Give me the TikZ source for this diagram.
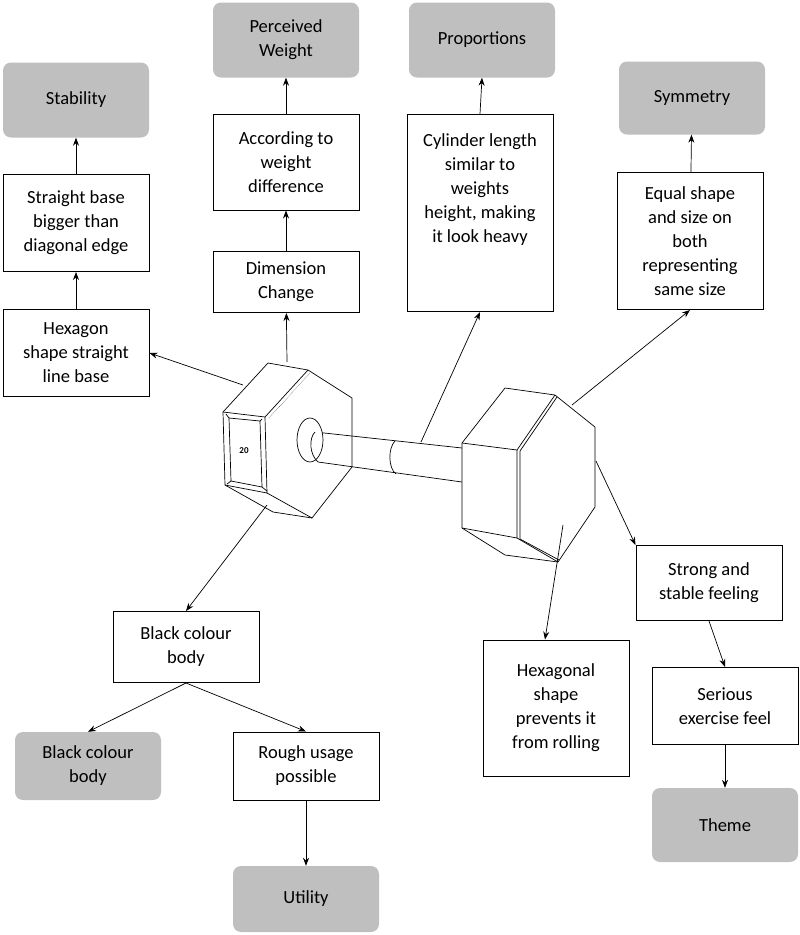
\documentclass[tikz,border=0pt]{standalone}
\usepackage{fontspec}
\setmainfont{Carlito}
\usetikzlibrary{arrows.meta}
\begin{document}
\begin{tikzpicture}[x=1pt,y=-1pt,
 box/.style={draw,line width=1pt,minimum width=146pt,align=center,font=\fontsize{18.5}{24}\selectfont,inner sep=2pt},
 gbox/.style={fill=black!25,rounded corners=8pt,minimum width=146pt,align=center,font=\fontsize{18.5}{24}\selectfont},
 arr/.style={-{Stealth[length=8pt,width=6pt]},line width=0.7pt},
 db/.style={line width=0.7pt,line join=round}]
\useasboundingbox (0,0) rectangle (800,935);
% nodes
\node[gbox,minimum height=75pt] (stab) at (76,100) {Stability};
\node[box,minimum height=97pt] (sb) at (76,223) {Straight base\\bigger than\\diagonal edge};
\node[box,minimum height=87pt] (hx) at (76,353) {Hexagon\\shape straight\\line base};
\node[gbox,minimum height=75pt] (pw) at (286,40) {Perceived\\Weight};
\node[box,minimum height=96pt] (aw) at (286,162) {According to\\weight\\difference};
\node[box,minimum height=61pt] (dc) at (286,282) {Dimension\\Change};
\node[gbox,minimum height=75pt] (pr) at (482,40) {Proportions};
\node[box,minimum height=197pt,text depth=50pt] (cl) at (480,213) {Cylinder length\\similar to\\weights\\height, making\\it look heavy};
\node[gbox,minimum height=73pt] (sy) at (692,98) {Symmetry};
\node[box,minimum height=137pt] (es) at (690,241) {Equal shape\\and size on\\both\\representing\\same size};
\node[box,minimum height=75pt] (ss) at (709,583) {Strong and\\stable feeling};
\node[box,minimum height=77pt] (se) at (725,706) {Serious\\exercise feel};
\node[gbox,minimum height=74pt] (th) at (725,825) {Theme};
\node[box,minimum height=136pt] (hp) at (556,708) {Hexagonal\\shape\\prevents it\\from rolling};
\node[box,minimum height=71pt] (bb) at (186,647) {Black colour\\body};
\node[gbox,minimum height=68pt] (gb) at (88,766) {Black colour\\body};
\node[box,minimum height=68pt] (ru) at (306,766) {Rough usage\\possible};
\node[gbox,minimum height=66pt] (ut) at (306,899) {Utility};
% dumbbell anchor coordinates
\coordinate (d1) at (243,385);
\coordinate (d2) at (287,362);
\coordinate (d3) at (421,442);
\coordinate (d4) at (572,405);
\coordinate (d5) at (596,461);
\coordinate (d6) at (563,525);
\coordinate (d7) at (267,505);
% dumbbell
\begin{scope}[db]
\draw (223,412) -- (268,363) -- (308,370) -- (352,398) -- (352,467) -- (312,518) -- (273,512) -- (225,485) -- cycle;
\draw (223,412) -- (265,417) -- (308,370);
\draw (265,417) -- (267,493) -- (225,485);
\draw (267,493) -- (312,518);
\draw (229,418) -- (260,421) -- (262,487) -- (231,481) -- cycle;
\draw (226,414) -- (229,418) (262,419) -- (260,421) (267,491) -- (262,487) (227,484) -- (231,481);
\draw[densely dotted,line width=0.4pt] (269,418) -- (310,373);
\node[font=\bfseries\small] (num) at (244,451) {20};
\draw (315,432) -- (462,448);
\draw (318,462) -- (462,482);
\draw[fill=white] (310,440) ellipse (13 and 22);
\draw (315,432) .. controls (309,438) and (309,454) .. (318,462);
\draw (395,441) .. controls (388,448) and (388,468) .. (396,474);
\draw[fill=white] (462,443) -- (505,388) -- (555,395) -- (595,427) -- (595,507) -- (558,562) -- (505,555) -- (462,528) -- cycle;
\draw (462,443) -- (517,450) -- (555,395);
\draw (517,450) -- (517,538) -- (462,528);
\draw (517,538) -- (558,562);
\draw (520,451) -- (520,539) (520,451) -- (557,397) (520,539) -- (559,560);
\end{scope}
% arrows
\draw[arr] (hx) -- (sb);
\draw[arr] (sb) -- (stab);
\draw[arr] (d1) -- (hx.east);
\draw[arr] (d2) -- (dc);
\draw[arr] (dc) -- (aw);
\draw[arr] (aw) -- (pw);
\draw[arr] (d3) -- (cl.south);
\draw[arr] (cl.north) -- (pr.south);
\draw[arr] (d4) -- (es.south);
\draw[arr] (es) -- (sy);
\draw[arr] (d5) -- (ss.north west);
\draw[arr] (ss.south) -- (se.north);
\draw[arr] (se) -- (th);
\draw[arr] (d6) -- (hp.north -| 545,0);
\draw[arr] (d7) -- (bb.north);
\draw[arr] (bb.south) -- (gb.north);
\draw[arr] (bb.south) -- (ru.north);
\draw[arr] (ru) -- (ut);
\end{tikzpicture}
\end{document}
